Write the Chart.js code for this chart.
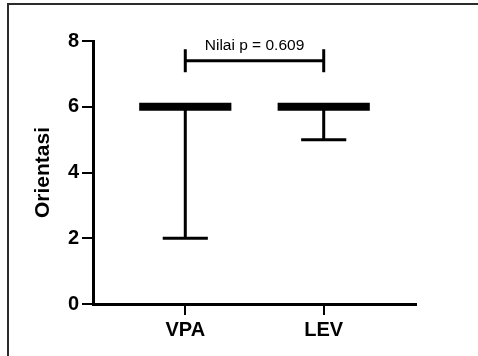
<!DOCTYPE html>
<html>
<head>
<meta charset="utf-8">
<script src="https://cdn.jsdelivr.net/npm/chart.js@4"></script>
<style>
  html, body { margin: 0; padding: 0; background: #fff; }
  #wrap { position: relative; width: 478px; height: 356px; }
  #frame {
    position: absolute; left: 7px; top: 3px; right: 0; bottom: 0;
    border-top: 2px solid #2b2b2b; border-left: 2px solid #2b2b2b;
    pointer-events: none;
  }
</style>
</head>
<body>
<div id="wrap">
  <canvas id="chart" width="478" height="356"></canvas>
  <div id="frame"></div>
</div>
<script>
// Data
const groups = ['VPA', 'LEV'];
const medians = [6, 6];
const minimums = [2, 5];
const maximums = [6, 6];
const yTicks = [0, 2, 4, 6, 8];
const pText = 'Nilai p = 0.609';
const bracketLevel = 7.4;

// Styling
const FONT = '"Liberation Sans", Arial, Helvetica, sans-serif';
const medianHalf = 0.333;
const capHalf = 0.163;
const bracketTick = 0.35;

function segment(points, width) {
    return {
        type: 'line',
        data: points,
        borderColor: '#000',
        borderWidth: width,
        borderCapStyle: 'butt',
        pointRadius: 0,
        tension: 0,
        fill: false
    };
}

// Build the marks from the arrays
const datasets = [];
groups.forEach((g, i) => {
    const x = i + 1;
    datasets.push(segment([{ x: x, y: maximums[i] }, { x: x, y: minimums[i] }], 3));
    datasets.push(segment([{ x: x - capHalf, y: minimums[i] }, { x: x + capHalf, y: minimums[i] }], 3));
    datasets.push(segment([{ x: x - medianHalf, y: medians[i] }, { x: x + medianHalf, y: medians[i] }], 8));
});
// significance bracket
datasets.push(segment([{ x: 1, y: bracketLevel - bracketTick }, { x: 1, y: bracketLevel + bracketTick }], 3));
datasets.push(segment([{ x: 1, y: bracketLevel }, { x: 2, y: bracketLevel }], 3));
datasets.push(segment([{ x: 2, y: bracketLevel - bracketTick }, { x: 2, y: bracketLevel + bracketTick }], 3));

// p value text above the bracket
const pLabelPlugin = {
    id: 'pLabel',
    afterDatasetsDraw(chart) {
        const xs = chart.scales.x, ys = chart.scales.y;
        const ctx = chart.ctx;
        ctx.save();
        ctx.font = '15.5px ' + FONT;
        ctx.fillStyle = '#000';
        ctx.textAlign = 'center';
        ctx.textBaseline = 'middle';
        ctx.fillText(pText, xs.getPixelForValue(1.5), ys.getPixelForValue(bracketLevel) - 15);
        ctx.restore();
    }
};

new Chart(document.getElementById('chart'), {
    type: 'line',
    data: { datasets: datasets },
    options: {
        responsive: false,
        animation: false,
        layout: { padding: { left: 0, top: 41, right: 62, bottom: 0 } },
        plugins: { legend: { display: false }, tooltip: { enabled: false } },
        scales: {
            x: {
                type: 'linear',
                min: 1 / 3,
                max: 8 / 3,
                afterFit(scale) { scale.height = 52; },
                afterBuildTicks(scale) { scale.ticks = groups.map((g, i) => ({ value: i + 1 })); },
                border: { display: true, color: '#000', width: 3 },
                grid: { drawOnChartArea: false, drawTicks: true, tickLength: 11, color: '#000', lineWidth: 2 },
                ticks: {
                    color: '#000',
                    padding: 3,
                    maxRotation: 0,
                    font: { family: FONT, size: 20, weight: 'bold' },
                    callback: (v) => groups[v - 1] || ''
                }
            },
            y: {
                min: 0,
                max: 8,
                afterFit(scale) { scale.width = 93; },
                afterBuildTicks(scale) { scale.ticks = yTicks.map(v => ({ value: v })); },
                border: { display: true, color: '#000', width: 3 },
                grid: { drawOnChartArea: false, drawTicks: true, tickLength: 11, color: '#000', lineWidth: 2 },
                ticks: {
                    color: '#000',
                    padding: 3,
                    font: { family: FONT, size: 20, weight: 'bold' }
                },
                title: {
                    display: true,
                    text: 'Orientasi',
                    color: '#000',
                    padding: { top: 31, bottom: 0 },
                    font: { family: FONT, size: 21, weight: 'bold' }
                }
            }
        }
    },
    plugins: [pLabelPlugin]
});
</script>
</body>
</html>
